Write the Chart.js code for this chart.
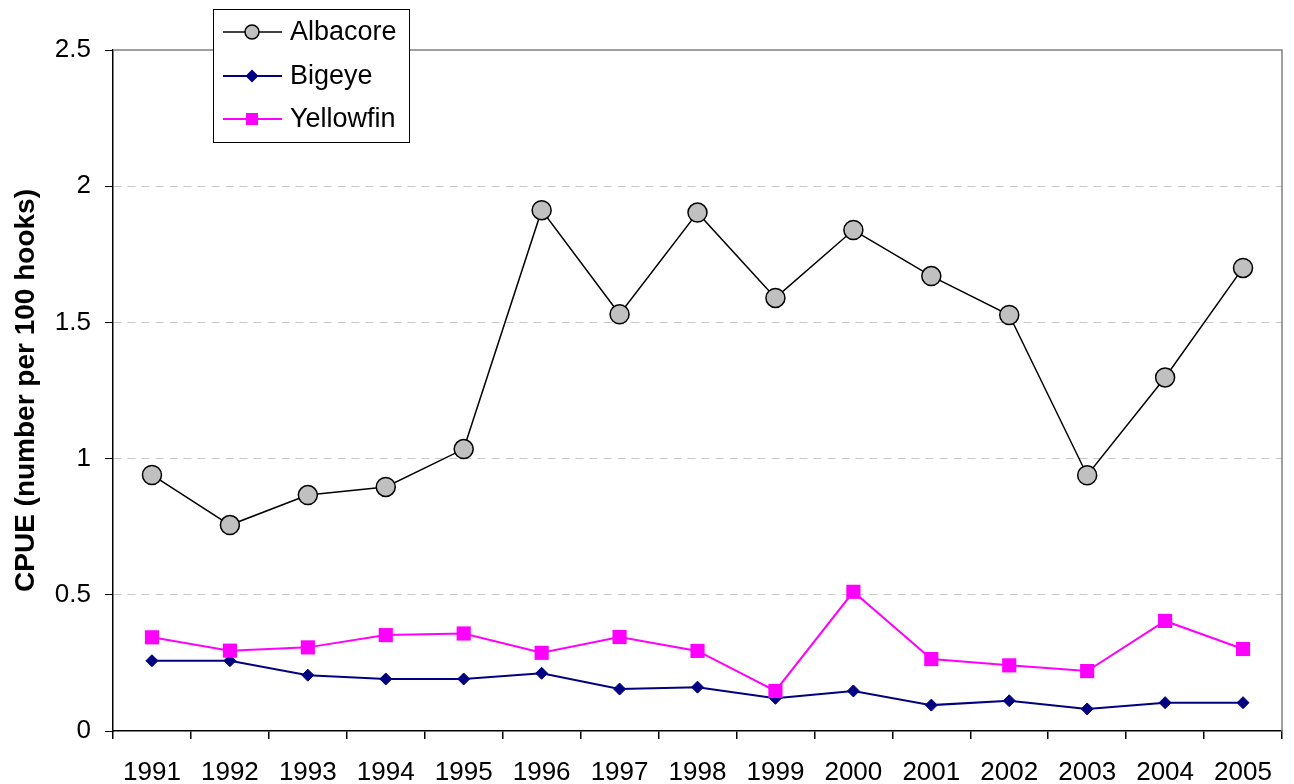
<!DOCTYPE html>
<html>
<head>
<meta charset="utf-8">
<title>CPUE by species</title>
<script src="https://cdn.jsdelivr.net/npm/chart.js@4"></script>
<style>
  body { margin: 0; background: #fff; }
  #wrap { width: 1294px; height: 784px; position: relative; }
</style>
</head>
<body>
<div id="wrap"><canvas id="cpueChart"></canvas></div>
<script>
// data
const years = ['1991', '1992', '1993', '1994', '1995', '1996', '1997', '1998', '1999', '2000', '2001', '2002', '2003', '2004', '2005'];
const albacore = [0.94, 0.756, 0.866, 0.896, 1.035, 1.912, 1.530, 1.903, 1.590, 1.839, 1.670, 1.527, 0.939, 1.298, 1.700];
const bigeye = [0.258, 0.258, 0.205, 0.191, 0.191, 0.212, 0.154, 0.161, 0.120, 0.147, 0.095, 0.111, 0.081, 0.104, 0.104];
const yellowfin = [0.344, 0.295, 0.307, 0.352, 0.358, 0.287, 0.345, 0.294, 0.147, 0.511, 0.264, 0.241, 0.220, 0.404, 0.301];
const yTicks = [0, 0.5, 1, 1.5, 2, 2.5];

const FONT = "'Liberation Sans', Arial, sans-serif";

// gray frame on top and right of the plot, like the Excel original
const framePlugin = {
    id: 'frame',
    beforeDatasetsDraw(chart) {
        const { ctx, chartArea: a } = chart;
        ctx.save();
        ctx.strokeStyle = '#808080';
        ctx.lineWidth = 1.5;
        ctx.beginPath();
        ctx.moveTo(a.left, a.top);
        ctx.lineTo(a.right, a.top);
        ctx.lineTo(a.right, a.bottom);
        ctx.stroke();
        ctx.restore();
    }
};

function drawMarker(ctx, style, x, y, r, fill, stroke) {
    ctx.beginPath();
    if (style === 'circle') {
        ctx.arc(x, y, r, 0, Math.PI * 2);
    } else if (style === 'rectRot') {
        ctx.moveTo(x, y - r);
        ctx.lineTo(x + r, y);
        ctx.lineTo(x, y + r);
        ctx.lineTo(x - r, y);
        ctx.closePath();
    } else {
        ctx.rect(x - r, y - r, r * 2, r * 2);
    }
    ctx.fillStyle = fill;
    ctx.fill();
    if (stroke) {
        ctx.strokeStyle = stroke;
        ctx.lineWidth = 1.5;
        ctx.stroke();
    }
}

// boxed legend floating over the top border
const legendBox = {
    id: 'legendBox',
    afterDraw(chart) {
        const ctx = chart.ctx;
        ctx.save();
        ctx.fillStyle = '#fff';
        ctx.fillRect(213.5, 9.5, 196, 133);
        ctx.strokeStyle = '#000';
        ctx.lineWidth = 1;
        ctx.strokeRect(213.5, 9.5, 196, 133);

        const rows = [
            { y: 32, ds: chart.data.datasets[0], style: 'circle', r: 7, fill: '#c0c0c0', stroke: '#000' },
            { y: 76, ds: chart.data.datasets[1], style: 'rectRot', r: 6.5, fill: '#000080', stroke: null },
            { y: 119, ds: chart.data.datasets[2], style: 'rect', r: 6, fill: '#ff00ff', stroke: null }
        ];
        rows.forEach(row => {
            ctx.strokeStyle = row.ds.borderColor;
            ctx.lineWidth = row.ds.borderWidth;
            ctx.beginPath();
            ctx.moveTo(223, row.y);
            ctx.lineTo(282, row.y);
            ctx.stroke();
            drawMarker(ctx, row.style, 252, row.y, row.r, row.fill, row.stroke);
            ctx.fillStyle = '#000';
            ctx.font = '27px ' + FONT;
            ctx.textBaseline = 'middle';
            ctx.textAlign = 'left';
            ctx.fillText(row.ds.label, 290, row.y + 1);
        });
        ctx.restore();
    }
};

const ctx = document.getElementById('cpueChart').getContext('2d');
new Chart(ctx, {
    type: 'line',
    data: {
        labels: years,
        datasets: [{
            label: 'Albacore',
            data: albacore,
            borderColor: '#000',
            borderWidth: 1.5,
            pointStyle: 'circle',
            pointRadius: 9.5,
            pointBackgroundColor: '#c0c0c0',
            pointBorderColor: '#000',
            pointBorderWidth: 1.5,
            tension: 0,
            order: 3
        }, {
            label: 'Bigeye',
            data: bigeye,
            borderColor: '#000080',
            borderWidth: 2,
            pointStyle: 'rectRot',
            pointRadius: 6,
            pointBackgroundColor: '#000080',
            pointBorderColor: '#000080',
            pointBorderWidth: 1,
            tension: 0,
            order: 2
        }, {
            label: 'Yellowfin',
            data: yellowfin,
            borderColor: '#ff00ff',
            borderWidth: 2,
            pointStyle: 'rect',
            pointRadius: 10,
            pointBackgroundColor: '#ff00ff',
            pointBorderColor: '#ff00ff',
            pointBorderWidth: 0,
            tension: 0,
            order: 1
        }]
    },
    options: {
        responsive: true,
        maintainAspectRatio: false,
        animation: false,
        layout: { padding: { top: 50, right: 12, left: 0, bottom: 0 } },
        plugins: {
            legend: { display: false },
            tooltip: { enabled: false }
        },
        scales: {
            x: {
                type: 'category',
                offset: true,
                grid: {
                    offset: true,
                    drawOnChartArea: false,
                    drawTicks: true,
                    tickLength: 8,
                    tickColor: '#000',
                    color: '#000',
                    lineWidth: 1.5
                },
                border: { color: '#000', width: 1.5 },
                ticks: {
                    font: { family: FONT, size: 26 },
                    color: '#000',
                    padding: 18,
                    maxRotation: 0,
                    autoSkip: false
                },
                afterFit(scale) { scale.height = 53; }
            },
            y: {
                min: 0,
                max: 2.5,
                afterBuildTicks(scale) {
                    scale.ticks = yTicks.map(v => ({ value: v }));
                },
                grid: {
                    color: c => (c.tick && c.tick.value > 0 && c.tick.value < 2.5) ? '#c8c8c8' : 'rgba(0,0,0,0)',
                    tickColor: '#000',
                    tickLength: 8,
                    lineWidth: 1
                },
                border: { color: '#000', width: 1.5, dash: [8, 6] },
                ticks: {
                    font: { family: FONT, size: 26 },
                    color: '#000',
                    padding: 14,
                    callback: v => String(v)
                },
                title: {
                    display: true,
                    text: 'CPUE (number per 100 hooks)',
                    font: { family: FONT, size: 28, weight: 'bold' },
                    color: '#000',
                    padding: { top: 9, bottom: 0 }
                },
                afterFit(scale) { scale.width = 113; }
            }
        }
    },
    plugins: [framePlugin, legendBox]
});
</script>
</body>
</html>
